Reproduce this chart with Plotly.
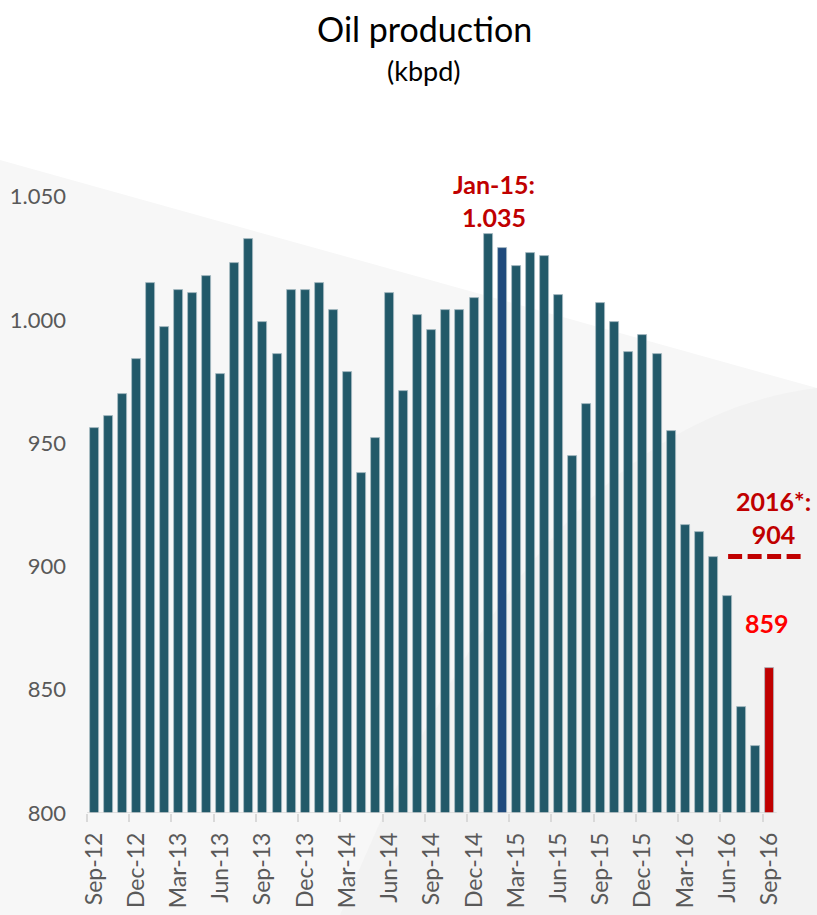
import pandas as pd
import plotly.graph_objects as go

# Monthly oil production, Sep-2012 .. Sep-2016 (kbpd)
months = [d.strftime("%b-%y") for d in pd.date_range("2012-09-01", "2016-09-01", freq="MS")]
production = [956, 961, 970, 984, 1015, 997, 1012, 1011, 1018, 978,
              1023, 1033, 999, 986, 1012, 1012, 1015, 1004, 979, 938,
              952, 1011, 971, 1002, 996, 1004, 1004, 1009, 1035, 1029,
              1022, 1027, 1026, 1010, 945, 966, 1007, 999, 987, 994,
              986, 955, 917, 914, 904, 888, 843, 827, 859]

peak_month = "Jan-15"
blue_month = "Feb-15"
last_month = "Sep-16"
avg_2016 = 904

y_ticks = [800, 850, 900, 950, 1000, 1050]
y_tick_text = ["800", "850", "900", "950", "1.000", "1.050"]

TEAL = "#225969"
BLUE = "#1F4A7C"
DARK_RED = "#C00000"
BRIGHT_RED = "#FF0000"
AXIS_GREY = "#595959"

x_idx = list(range(len(months)))
colors = []
for m in months:
    if m == blue_month:
        colors.append(BLUE)
    elif m == last_month:
        colors.append(DARK_RED)
    else:
        colors.append(TEAL)

# page geometry (pixels) used for background decoration
W, H = 817, 915
ML, MR, MT, MB = 87, 15, 172, 102
PW, PH = W - ML - MR, H - MT - MB


def px(x):
    return (x - ML) / PW


def py(y):
    return (H - MB - y) / PH


fig = go.Figure()

fig.add_trace(go.Bar(
    x=x_idx, y=production,
    marker=dict(color=colors, line=dict(color="#A9BEC4", width=0.8)),
    width=0.64,
    showlegend=False, hoverinfo="x+y",
))

# 2016 average dashed marker
last_i = months.index(last_month)
fig.add_trace(go.Scatter(
    x=[last_i - 2.95, last_i + 2.25], y=[avg_2016, avg_2016],
    mode="lines",
    line=dict(color=DARK_RED, width=5, dash="14px,5.5px"),
    showlegend=False, hoverinfo="skip",
))

# background panels
shapes = [
    dict(type="path", xref="paper", yref="paper", layer="below",
         path=f"M {px(0)} {py(160)} L {px(W)} {py(388)} L {px(W)} {py(H)} L {px(0)} {py(H)} Z",
         fillcolor="#F7F7F7", line=dict(width=0)),
    dict(type="path", xref="paper", yref="paper", layer="below",
         path=(f"M {px(340)} {py(H)} C {px(430)} {py(700)} {px(560)} {py(420)} "
               f"{px(W)} {py(388)} L {px(W)} {py(H)} Z"),
         fillcolor="#F2F2F2", line=dict(width=0)),
    # category axis baseline
    dict(type="line", xref="x", yref="y", layer="above",
         x0=-0.5, x1=len(months) - 0.5, y0=800, y1=800,
         line=dict(color="#D9D9D9", width=1.5)),
]

peak_i = months.index(peak_month)
annotations = [
    dict(text="Oil production", x=px(424), y=py(28), xref="paper", yref="paper",
         showarrow=False, font=dict(family="Lato", size=34, color="#000000"),
         xanchor="center", yanchor="middle"),
    dict(text="(kbpd)", x=px(424), y=py(71), xref="paper", yref="paper",
         showarrow=False, font=dict(family="Lato", size=27, color="#000000"),
         xanchor="center", yanchor="middle"),
    dict(text=f"<b>{peak_month}:<br>{production[peak_i]:,}</b>".replace(",", "."),
         x=peak_i + 0.42, y=production[peak_i], xref="x", yref="y",
         showarrow=False, yanchor="bottom", yshift=0,
         font=dict(family="Lato", size=25, color=DARK_RED)),
    dict(text=f"<b>2016*:<br>{avg_2016}</b>",
         x=last_i + 0.3, y=avg_2016, xref="x", yref="y",
         showarrow=False, yanchor="bottom", yshift=6,
         font=dict(family="Lato", size=25, color=DARK_RED)),
    dict(text=f"<b>{production[last_i]}</b>",
         x=last_i - 0.2, y=production[last_i], xref="x", yref="y",
         showarrow=False, yanchor="bottom", yshift=28,
         font=dict(family="Lato", size=25, color=BRIGHT_RED)),
]

tick_pos = x_idx[::3]
tick_labels = months[::3]

fig.update_layout(
    width=W, height=H,
    margin=dict(l=ML, r=MR, t=MT, b=MB, autoexpand=False),
    paper_bgcolor="#FFFFFF",
    plot_bgcolor="rgba(0,0,0,0)",
    shapes=shapes,
    annotations=annotations,
    bargap=0,
    xaxis=dict(
        range=[-0.5, len(months) + 1.3],
        tickmode="array", tickvals=tick_pos, ticktext=tick_labels,
        tickangle=-90, ticks="", showgrid=False, zeroline=False, showline=False,
        ticklabelstandoff=14, automargin=False,
        tickfont=dict(family="Lato", size=23, color=AXIS_GREY),
        minor=dict(tickmode="array", tickvals=[p - 0.5 for p in tick_pos],
                   ticks="outside", ticklen=8, tickwidth=1.5, tickcolor="#D9D9D9", showgrid=False),
        fixedrange=True,
    ),
    yaxis=dict(
        range=[800, 1060],
        tickmode="array", tickvals=y_ticks, ticktext=y_tick_text,
        ticks="", showgrid=False, zeroline=False, showline=False,
        ticklabelstandoff=20, automargin=False,
        tickfont=dict(family="Lato", size=22, color=AXIS_GREY),
        fixedrange=True,
    ),
)

fig.write_html("out.html")
